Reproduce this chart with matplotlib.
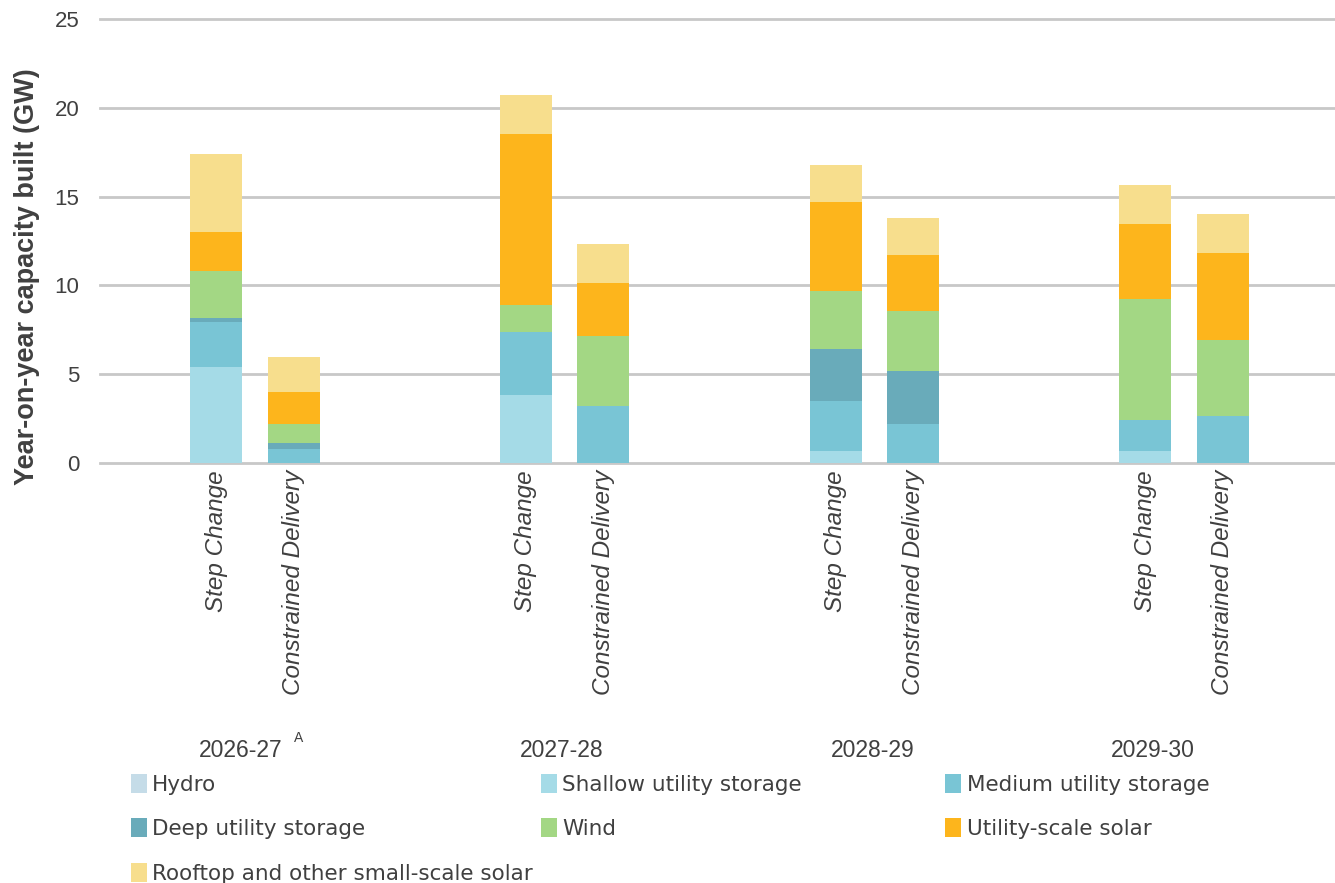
import matplotlib.pyplot as plt
from matplotlib.patches import Patch

# data (GW)
years = ["2026-27", "2027-28", "2028-29", "2029-30"]
year_pos = [0.31, 4.46, 8.48, 12.1]
scenarios = ["Step Change", "Constrained Delivery"]
techs = ["Hydro", "Shallow utility storage", "Medium utility storage",
         "Deep utility storage", "Wind", "Utility-scale solar",
         "Rooftop and other small-scale solar"]
colors = ["#C5DCE8", "#A5DBE7", "#79C5D5", "#69ABBA", "#A3D784", "#FDB51C", "#F7DE8D"]

# order of bars: SC 26-27, CD 26-27, SC 27-28, CD 27-28, ...
hydro   = [0.0, 0.0, 0.0, 0.0, 0.0, 0.0, 0.0, 0.0]
shallow = [5.41, 0.0, 3.83, 0.0, 0.68, 0.0, 0.68, 0.0]
medium  = [2.53, 0.79, 3.53, 3.23, 2.79, 2.20, 1.72, 2.63]
deep    = [0.24, 0.34, 0.0, 0.0, 2.97, 2.98, 0.0, 0.0]
wind    = [2.63, 1.05, 1.52, 3.92, 3.23, 3.36, 6.82, 4.28]
utility = [2.18, 1.82, 9.66, 2.97, 5.04, 3.19, 4.25, 4.93]
rooftop = [4.39, 1.97, 2.18, 2.21, 2.09, 2.08, 2.18, 2.20]
series = [hydro, shallow, medium, deep, wind, utility, rooftop]

plt.rcParams['font.family'] = ['Liberation Sans', 'DejaVu Sans']
txt = '#404040'

fig = plt.figure(figsize=(13.35, 8.83), dpi=100)
ax = fig.add_axes([0.075, 0.4757, 0.925, 0.5028])

xpos = []
for g in range(len(years)):
    xpos += [g * 4, g * 4 + 1]

bottom = [0.0] * len(xpos)
for vals, col in zip(series, colors):
    ax.bar(xpos, vals, width=0.67, bottom=bottom, color=col, zorder=3)
    bottom = [b + v for b, v in zip(bottom, vals)]

ax.set_xlim(-1.5, 14.45)
ax.set_ylim(0, 25)
ax.set_yticks(range(0, 26, 5))
ax.tick_params(axis='y', length=0, labelsize=16, colors=txt, pad=15)
ax.tick_params(axis='x', length=0)
ax.set_xticks([])
ax.grid(axis='y', color='#C8C8C8', linewidth=2, zorder=0)
for gl in ax.get_ygridlines():
    gl.set_clip_on(False)
for s in ax.spines.values():
    s.set_visible(False)
fig.text(27 / 1335, 1 - 277 / 883, "Year-on-year capacity built (GW)", rotation=90,
         ha='center', va='center', fontsize=19.5, fontweight='bold', color=txt)

# scenario labels, rotated
for i, x in enumerate(xpos):
    ax.text(x, -0.4, scenarios[i % 2], rotation=90, ha='center', va='top',
            fontsize=17.5, style='italic', color=txt)

# year labels
for yp, yr in zip(year_pos, years):
    ax.text(yp, -16.2, yr, ha='center', va='center', fontsize=16.5, color=txt)
ax.text(1.0, -15.5, "A", ha='left', va='center', fontsize=10, color=txt)

# legend, three columns placed like the original
cols = [[0, 3, 6], [1, 4], [2, 5]]
xs = [0.098, 0.405, 0.708]
for c, xl in zip(cols, xs):
    handles = [Patch(facecolor=colors[k], label=techs[k]) for k in c]
    fig.legend(handles=handles, loc='upper left', bbox_to_anchor=(xl, 0.124),
               frameon=False, prop={'family': 'DejaVu Sans', 'size': 15.5},
               handlelength=0.75, handleheight=1.0,
               handletextpad=0.25, labelspacing=1.1, labelcolor=txt,
               borderaxespad=0, borderpad=0)

fig.savefig("out.png", dpi=100)
